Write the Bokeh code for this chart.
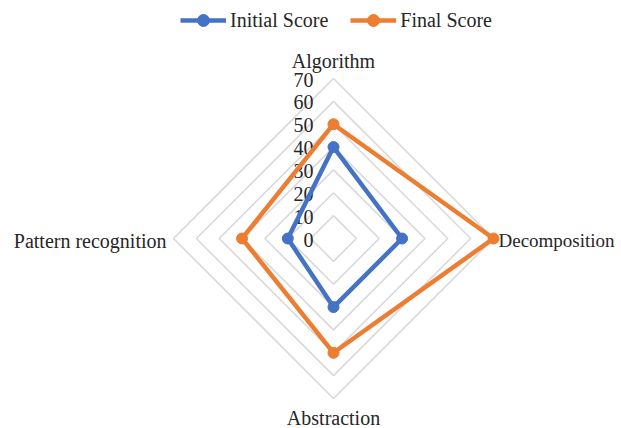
import math
from bokeh.plotting import figure
from bokeh.models import Range1d, Legend, LegendItem
from bokeh.core.properties import value
from bokeh.embed import file_html
from bokeh.resources import INLINE

categories = ["Algorithm", "Decomposition", "Abstraction", "Pattern recognition"]
initial_score = [40, 30, 30, 20]
final_score = [50, 70, 50, 40]
tick_values = [0, 10, 20, 30, 40, 50, 60, 70]
series_names = ["Initial Score", "Final Score"]

W, H = 621, 428
cx_px, cy_px = 333, 238
s = 160 / 70.0  # px per value unit
FONT = "'Liberation Serif', 'Times New Roman', serif"
FS = "20px"

p = figure(width=W, height=H, output_backend="svg", toolbar_location=None,
           x_range=Range1d(-cx_px / s, (W - cx_px) / s),
           y_range=Range1d(-(H - cy_px) / s, cy_px / s),
           min_border=0, outline_line_color=None)
p.xaxis.visible = False
p.yaxis.visible = False
p.xgrid.visible = False
p.ygrid.visible = False
p.background_fill_color = "white"

n = len(categories)
angles = [math.pi / 2 - 2 * math.pi * i / n for i in range(n)]

def pts(vals):
    xs = [v * math.cos(a) for v, a in zip(vals, angles)]
    ys = [v * math.sin(a) for v, a in zip(vals, angles)]
    return xs, ys

# grid rings
ring_xs, ring_ys = [], []
for t in tick_values[1:]:
    xs, ys = pts([t] * n)
    ring_xs.append(xs + [xs[0]])
    ring_ys.append(ys + [ys[0]])
p.multi_line(ring_xs, ring_ys, line_color="#d9d9d9", line_width=1.6)

# tick labels
p.text(x=[0] * len(tick_values), y=tick_values, text=[str(t) for t in tick_values],
       text_font=value(FONT), text_font_size=FS, text_color="#262626",
       text_align="right", text_baseline="middle", x_offset=-20, y_offset=1)

# category labels
lx, ly = pts([70] * n)
common = dict(text_font=value(FONT), text_color="#262626", text_baseline="middle")
p.text(x=[lx[0]], y=[ly[0]], text=[categories[0]], text_align="center", y_offset=-18,
       text_font_size=FS, **common)
p.text(x=[lx[1]], y=[ly[1]], text=[categories[1]], text_align="left", x_offset=5, y_offset=2,
       text_font_size="19px", **common)
p.text(x=[lx[2]], y=[ly[2]], text=[categories[2]], text_align="center", y_offset=19,
       text_font_size=FS, **common)
p.text(x=[lx[3]], y=[ly[3]], text=[categories[3]], text_align="right", x_offset=-7, y_offset=2,
       text_font_size=FS, **common)

colors = ["#4472C4", "#ED7D31"]
items = []
for name, vals, col in zip(series_names, [initial_score, final_score], colors):
    xs, ys = pts(vals)
    ln = p.line(xs + [xs[0]], ys + [ys[0]], line_color=col, line_width=4.5, line_join="round")
    sc = p.scatter(xs, ys, size=11, fill_color=col, line_color=col, marker="circle")
    items.append(LegendItem(label=name, renderers=[ln, sc]))

legend = Legend(items=items, orientation="horizontal", location=(180, H - 35),
                glyph_width=46, glyph_height=30, label_standoff=4, spacing=22,
                padding=0, margin=0, border_line_alpha=0, background_fill_alpha=0,
                label_text_font=FONT, label_text_font_size=FS, label_text_color="#262626")
p.add_layout(legend, "center")

open("out.html", "w").write(file_html(p, INLINE))
